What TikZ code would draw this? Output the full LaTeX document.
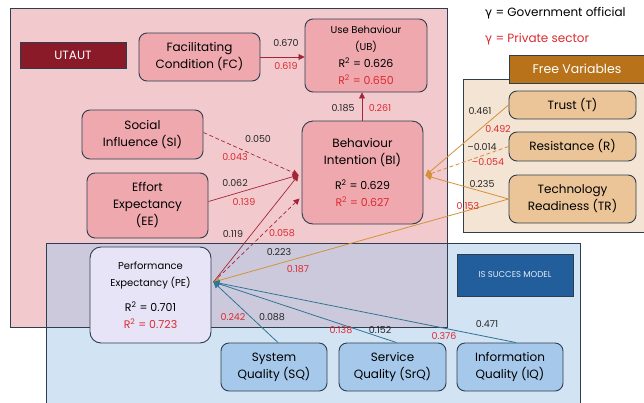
\documentclass[tikz,border=0pt]{standalone}
\usepackage{fontspec}
\setmainfont{Poppins}
\newfontfamily\gfont{DejaVu Sans}
\usetikzlibrary{arrows.meta,calc}
\definecolor{bgpink}{HTML}{F2CACD}
\definecolor{nodepink}{HTML}{EEA8AE}
\definecolor{bordc}{HTML}{2D3E4E}
\definecolor{utred}{HTML}{8B1A28}
\definecolor{bgbeige}{HTML}{F4E4D4}
\definecolor{nodetan}{HTML}{EBC598}
\definecolor{fvbrown}{HTML}{B8731A}
\definecolor{bgblue}{HTML}{D2E3F4}
\definecolor{overlap}{HTML}{CDC9DC}
\definecolor{pefill}{HTML}{E6E4F6}
\definecolor{nodeblue}{HTML}{A6C8EA}
\definecolor{isblue}{HTML}{215E9B}
\definecolor{redt}{HTML}{DC2B30}
\definecolor{linered}{HTML}{A32638}
\definecolor{lineor}{HTML}{D4913A}
\definecolor{linebl}{HTML}{2F7596}
\newcommand{\fA}{\fontsize{12}{17}\selectfont}
\newcommand{\fB}{\fontsize{10}{14.5}\selectfont}
\newcommand{\fC}{\fontsize{11}{15}\selectfont}
\newcommand{\Rsq}{R\textsuperscript{2}}
\begin{document}
\begin{tikzpicture}[x=1pt,y=-1pt,
  box/.style={draw=bordc, line width=0.9pt, rounded corners=8pt, align=center, inner sep=0pt, font=\fA},
  pinkbox/.style={box, fill=nodepink, minimum width=121pt},
  tanbox/.style={box, fill=nodetan, minimum width=127pt},
  bluebox/.style={box, fill=nodeblue, minimum width=106pt, minimum height=48pt},
  lab/.style={font=\fontsize{9.5}{10}\selectfont, inner sep=0pt, text=black!85},
  redlab/.style={lab, text=redt},
  redarr/.style={draw=linered, line width=0.7pt, -{Triangle[length=6pt,width=6pt]}},
  orarr/.style={draw=lineor, line width=0.8pt, -{Triangle[length=6pt,width=6pt]}},
  blarr/.style={draw=linebl, line width=0.8pt, -{Triangle[length=6pt,width=6pt]}},
  dsh/.style={dash pattern=on 4pt off 2.5pt},
  bgline/.style={draw=bordc, line width=0.9pt}
]
\useasboundingbox (0,0) rectangle (644,402);
% backgrounds
\fill[bgbeige] (463,79) rectangle (650,232);
\draw[bgline] (650,79) -- (463,79) -- (463,232) -- (650,232);
\fill[bgpink] (10,8) rectangle (447,327);
\fill[bgblue] (46,243) rectangle (580,410);
\fill[overlap] (46,243) rectangle (447,327);
\draw[bgline] (10,8) rectangle (447,327);
\draw[bgline] (46,243) rectangle (580,410);
% label boxes
\node[draw=bordc, line width=0.9pt, fill=utred, text=white, minimum width=106pt, minimum height=26pt, inner sep=0pt, font=\fA] (utaut) at (73,55) {UTAUT};
\node[draw=bordc, line width=0.9pt, fill=fvbrown, text=white, minimum width=141pt, minimum height=28pt, inner sep=0pt, font=\fontsize{12.5}{15}\selectfont, anchor=west] (fv) at (509,69) {\hspace*{-6pt}Free Variables};
\node[draw=bordc, line width=0.9pt, fill=isblue, text=white!88!isblue, minimum width=116pt, minimum height=42pt, inner sep=0pt, font=\fontsize{8.5}{10}\selectfont] (isl) at (515,275) {IS SUCCES MODEL};
% legend
\node[anchor=west, inner sep=0pt, font=\fA] (leg1) at (485,13) {{\gfont γ} = Government official};
\node[anchor=west, inner sep=0pt, font=\fA, text=redt] (leg2) at (485,39) {{\gfont γ} = Private sector};
% nodes
\node[pinkbox, minimum height=48pt] (FC) at (199.5,57) {\fA Facilitating\\\fA Condition (FC)};
\node[pinkbox, minimum width=122pt, minimum height=73pt] (UB) at (366,55.5) {\fB Use Behaviour\\\fB (UB)\\\fC \Rsq{} = 0.626\\\fC\textcolor{redt}{\Rsq{} = 0.650}};
\node[pinkbox, minimum height=49pt] (SI) at (142.5,134.5) {\fA Social\\\fA Influence (SI)};
\node[pinkbox, minimum height=65pt] (EE) at (147.5,205.5) {\fA Effort\\\fA Expectancy\\\fA (EE)};
\node[pinkbox, minimum height=103pt, rounded corners=11pt] (BI) at (362.5,172.5) {\fA Behaviour\\\fA Intention (BI)\\[8pt]\fC \Rsq{} = 0.629\\\fC\textcolor{redt}{\Rsq{} = 0.627}};
\node[box, fill=pefill, minimum width=121pt, minimum height=96pt, rounded corners=11pt] (PE) at (150.5,295) {\fB Performance\\\fB Expectancy (PE)\\[8pt]\fC \Rsq{} = 0.701\\\fC\textcolor{redt}{\Rsq{} = 0.723}};
\node[bluebox] (SQ) at (274,367) {\fA System\\\fA Quality (SQ)};
\node[bluebox, minimum width=107pt] (SrQ) at (392.5,367) {\fA Service\\\fA Quality (SrQ)};
\node[bluebox] (IQ) at (510,367) {\fA Information\\\fA Quality (IQ)};
\node[tanbox, minimum height=28pt] (T) at (572.5,105) {Trust (T)};
\node[tanbox, minimum height=29pt] (R) at (572.5,146.5) {Resistance (R)};
\node[tanbox, minimum height=48pt] (TR) at (572.5,199) {\fA Technology\\\fA Readiness (TR)};
% connection points
\coordinate (biA) at ($(BI.west)+(-3,2.5)$);
\coordinate (biB) at ($(BI.west)+(-2,26)$);
\coordinate (biR) at ($(BI.east)+(2,3)$);
\coordinate (peH) at ($(PE.east)+(2,-13)$);
% connectors
\draw[redarr] (FC.east) -- (FC.east -| UB.west);
\draw[redarr] ($(BI.north)+(-0.5,0)$) -- ($(BI.north |- UB.south)+(-0.5,0)$);
\draw[redarr, dsh] ($(SI.east)+(0,-2)$) -- (biA);
\draw[redarr] ($(EE.east)+(0,-4)$) -- (biA);
\draw[redarr] (peH) -- (biA);
\draw[redarr, dsh] (peH) -- (biB);
\draw[orarr] (T.west) -- (biR);
\draw[orarr, dsh] (R.west) -- (biR);
\draw[orarr] (TR.west) -- (biR);
\draw[orarr] (TR.west) -- (peH);
\draw[blarr] ($(SQ.north)+(4,0)$) -- (peH);
\draw[blarr] ($(SrQ.north)+(4,0)$) -- (peH);
\draw[blarr] ($(IQ.north)+(6,0)$) -- (peH);
% coefficient labels
\node[lab] (l1) at (286,43) {0.670};
\node[redlab] (l2) at (286,66) {0.619};
\node[lab] (l3) at (343,108) {0.185};
\node[redlab] (l4) at (380,108) {0.261};
\node[lab] (l5) at (258,139) {0.050};
\node[redlab] (l6) at (235,157) {0.043};
\node[lab] (l7) at (235,183) {0.062};
\node[redlab] (l8) at (244,202) {0.139};
\node[lab] (l9) at (233,234) {0.119};
\node[redlab] (l10) at (282,233) {0.058};
\node[lab] (l11) at (279,252) {0.223};
\node[redlab] (l12) at (298,269) {0.187};
\node[redlab] (l13) at (233,317) {0.242};
\node[lab] (l14) at (272,317) {0.088};
\node[redlab] (l15) at (341,330) {0.138};
\node[lab] (l16) at (380,330) {0.152};
\node[redlab] (l17) at (444,336) {0.376};
\node[lab] (l18) at (487,324) {0.471};
\node[lab] (l19) at (480,111) {0.461};
\node[redlab] (l20) at (498,129) {0.492};
\node[lab] (l21) at (482,147) {\textendash0.014};
\node[redlab] (l22) at (488,162) {\textendash0.054};
\node[lab] (l23) at (482,184) {0.235};
\node[redlab] (l24) at (468,206) {0.153};
\end{tikzpicture}
\end{document}
